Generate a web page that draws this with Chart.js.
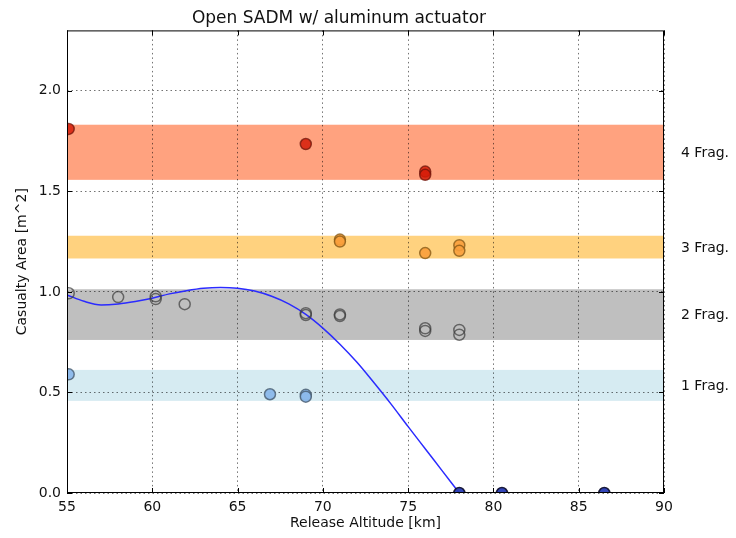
<!DOCTYPE html>
<html>
<head>
<meta charset="utf-8">
<script src="https://cdn.jsdelivr.net/npm/chart.js@4/dist/chart.umd.min.js"></script>
<style>
  html, body { margin: 0; padding: 0; background: #fff; }
  #wrap { width: 736px; height: 538px; }
</style>
</head>
<body>
<div id="wrap"><canvas id="fragChart"></canvas></div>
<script>
// tick labels
var xTicks = [55, 60, 65, 70, 75, 80, 85, 90];
var yTicks = [0.0, 0.5, 1.0, 1.5, 2.0];

// fragment bands (casualty area range per fragment count)
var bandLabels = ['1 Frag.', '2 Frag.', '3 Frag.', '4 Frag.'];
var bandLow  = [0.458, 0.761, 1.166, 1.557];
var bandHigh = [0.612, 1.013, 1.279, 1.831];
var bandColors = ['rgba(173,216,230,0.5)', 'rgba(128,128,128,0.5)', 'rgba(255,165,0,0.5)', 'rgba(255,69,0,0.5)'];

// 4 fragments
var xFrag4 = [55.1, 69.0, 76.0, 76.0];
var yFrag4 = [1.81, 1.735, 1.598, 1.582];
// 3 fragments
var xFrag3 = [71.0, 71.0, 76.0, 78.0, 78.0];
var yFrag3 = [1.26, 1.25, 1.193, 1.232, 1.204];
// 2 fragments
var xFrag2 = [55.1, 58.0, 60.2, 60.2, 61.9, 69.0, 69.0, 71.0, 71.0, 76.0, 76.0, 78.0, 78.0];
var yFrag2 = [0.993, 0.974, 0.978, 0.964, 0.939, 0.894, 0.885, 0.888, 0.88, 0.819, 0.806, 0.811, 0.787];
// 1 fragment
var xFrag1 = [55.1, 66.9, 69.0, 69.0];
var yFrag1 = [0.59, 0.491, 0.488, 0.479];
// no fragment
var xFrag0 = [78.0, 80.5, 86.5];
var yFrag0 = [0, 0, 0];

// fit curve
var curveX = [55, 56, 57, 58, 59, 60, 61, 62, 63, 64, 65, 66, 67, 68, 69, 70, 71, 72, 73, 74, 75, 76, 77, 78];
var curveY = [0.985, 0.953, 0.935, 0.94, 0.952, 0.968, 0.99, 1.006, 1.018, 1.022, 1.018, 1.004, 0.978, 0.94, 0.888, 0.82, 0.74, 0.65, 0.548, 0.442, 0.33, 0.22, 0.11, 0.0];

function toPoints(xs, ys) {
  var pts = [];
  for (var i = 0; i < xs.length; i++) {
    pts.push({ x: xs[i], y: ys[i] });
  }
  return pts;
}

function dotSet(label, xs, ys, fill, edge) {
  return {
    type: 'scatter',
    label: label,
    data: toPoints(xs, ys),
    backgroundColor: fill,
    borderColor: edge,
    borderWidth: 1.5,
    pointRadius: 5.5,
    pointHoverRadius: 5.5
  };
}

var fontFam = "'DejaVu Sans', sans-serif";

// bands under the grid, frame + right labels on top
var bandPlugin = {
  id: 'bands',
  beforeDraw: function (chart) {
    var ctx = chart.ctx;
    var area = chart.chartArea;
    var yScale = chart.scales.y;
    ctx.save();
    for (var i = 0; i < bandLow.length; i++) {
      var top = yScale.getPixelForValue(bandHigh[i]);
      var bot = yScale.getPixelForValue(bandLow[i]);
      ctx.fillStyle = bandColors[i];
      ctx.fillRect(area.left, top, area.right - area.left, bot - top);
    }
    ctx.restore();
  },
  afterDraw: function (chart) {
    var ctx = chart.ctx;
    var area = chart.chartArea;
    var yScale = chart.scales.y;
    var xScale = chart.scales.x;
    ctx.save();
    ctx.strokeStyle = '#000';
    ctx.lineWidth = 1;
    ctx.strokeRect(area.left + 0.5, area.top + 0.5, area.right - area.left - 1, area.bottom - area.top - 1);
    // inward tick marks
    ctx.beginPath();
    for (var i = 0; i < xTicks.length; i++) {
      var px = Math.round(xScale.getPixelForValue(xTicks[i])) + 0.5;
      ctx.moveTo(px, area.bottom); ctx.lineTo(px, area.bottom - 5);
      ctx.moveTo(px, area.top); ctx.lineTo(px, area.top + 5);
    }
    for (var j = 0; j < yTicks.length; j++) {
      var py = Math.round(yScale.getPixelForValue(yTicks[j])) + 0.5;
      ctx.moveTo(area.left, py); ctx.lineTo(area.left + 5, py);
      ctx.moveTo(area.right, py); ctx.lineTo(area.right - 5, py);
    }
    ctx.stroke();
    ctx.fillStyle = '#111';
    ctx.font = '14px ' + fontFam;
    ctx.textAlign = 'left';
    ctx.textBaseline = 'middle';
    for (var k = 0; k < bandLabels.length; k++) {
      var mid = yScale.getPixelForValue((bandLow[k] + bandHigh[k]) / 2);
      ctx.fillText(bandLabels[k], area.right + 17, mid + 1);
    }
    ctx.restore();
  }
};

var config = {
  type: 'scatter',
  data: {
    datasets: [
      {
        type: 'line',
        label: 'fit',
        data: toPoints(curveX, curveY),
        borderColor: '#2b2bff',
        borderWidth: 1.5,
        pointRadius: 0,
        cubicInterpolationMode: 'monotone',
        fill: false,
        order: 2
      },
      dotSet('4 Frag.', xFrag4, yFrag4, 'rgba(214,28,8,0.85)', 'rgba(110,20,10,0.75)'),
      dotSet('3 Frag.', xFrag3, yFrag3, 'rgba(250,160,60,0.9)', 'rgba(130,85,20,0.75)'),
      dotSet('2 Frag.', xFrag2, yFrag2, 'rgba(0,0,0,0)', 'rgba(60,60,60,0.7)'),
      dotSet('1 Frag.', xFrag1, yFrag1, 'rgba(140,185,235,0.95)', 'rgba(70,90,110,0.8)'),
      dotSet('0 Frag.', xFrag0, yFrag0, 'rgba(40,60,180,0.95)', 'rgba(10,10,40,0.9)')
    ]
  },
  options: {
    responsive: true,
    maintainAspectRatio: false,
    animation: false,
    layout: { padding: { left: 14, right: 72, top: 0, bottom: 0 } },
    plugins: {
      legend: { display: false },
      tooltip: { enabled: false },
      title: {
        display: true,
        text: 'Open SADM w/ aluminum actuator',
        color: '#111',
        font: { family: fontFam, size: 17, weight: 'normal' },
        padding: { top: 8, bottom: 2 }
      }
    },
    scales: {
      x: {
        type: 'linear',
        min: 55,
        max: 90,
        afterBuildTicks: function (axis) {
          axis.ticks = xTicks.map(function (v) { return { value: v }; });
        },
        afterFit: function (scale) { scale.height = 45; },
        ticks: {
          color: '#111',
          padding: 6,
          font: { family: fontFam, size: 14 },
          callback: function (v) { return v; }
        },
        grid: {
          color: 'rgba(0,0,0,0.55)',
          lineWidth: 1,
          drawTicks: false
        },
        border: { display: false, dash: [1.5, 3] },
        title: {
          display: true,
          text: 'Release Altitude [km]',
          color: '#111',
          font: { family: fontFam, size: 14 },
          padding: { top: 0, bottom: 6 }
        }
      },
      y: {
        type: 'linear',
        min: 0,
        max: 2.3,
        afterBuildTicks: function (axis) {
          axis.ticks = yTicks.map(function (v) { return { value: v }; });
        },
        afterFit: function (scale) { scale.width = 53; },
        ticks: {
          color: '#111',
          padding: 6,
          font: { family: fontFam, size: 14 },
          callback: function (v) { return v.toFixed(1); }
        },
        grid: {
          color: 'rgba(0,0,0,0.55)',
          lineWidth: 1,
          drawTicks: false
        },
        border: { display: false, dash: [1.5, 3] },
        title: {
          display: true,
          text: 'Casualty Area [m^2]',
          color: '#111',
          font: { family: fontFam, size: 14 },
          padding: { top: 0, bottom: 4 }
        }
      }
    }
  },
  plugins: [bandPlugin]
};

new Chart(document.getElementById('fragChart'), config);
</script>
</body>
</html>
